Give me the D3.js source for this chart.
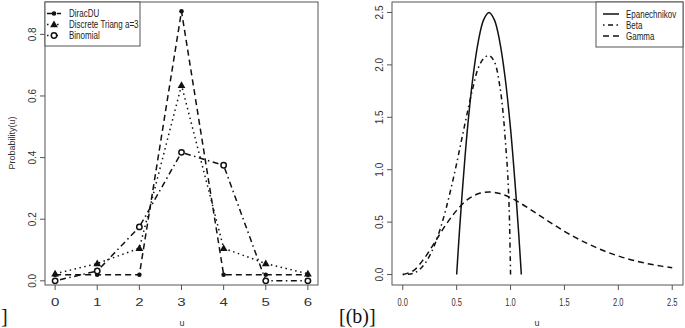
<!DOCTYPE html>
<html>
<head>
<meta charset="utf-8">
<script src="https://cdn.jsdelivr.net/npm/d3@7"></script>
<style>
  body { margin: 0; background: #fff; }
  svg { display: block; font-family: "Liberation Sans", Arial, sans-serif; }
  .tick-label { font-size: 10px; fill: #333; }
  .axis-title { font-size: 9px; fill: #333; }
  .legend-text { font-size: 10px; fill: #222; }
</style>
</head>
<body>
<svg id="chart" width="685" height="328"></svg>
<script>
// panel (a): discrete distributions
const uDiscrete = [0, 1, 2, 3, 4, 5, 6];
const diracDU = [0.02, 0.02, 0.02, 0.875, 0.02, 0.02, 0.02];
const triang = [0.023, 0.056, 0.106, 0.635, 0.106, 0.056, 0.023];
const binomial = [0.0, 0.032, 0.175, 0.417, 0.375, 0.0, 0.0];
const leftXTicks = [0, 1, 2, 3, 4, 5, 6];
const leftYTicks = [0, 0.2, 0.4, 0.6, 0.8];

// panel (b): densities
const epaU = [0.5, 0.525, 0.55, 0.575, 0.6, 0.65, 0.7, 0.75, 0.8, 0.85, 0.9, 0.95, 1.0, 1.025, 1.05, 1.075, 1.1];
const epaY = [0, 0.40, 0.76, 1.09, 1.39, 1.875, 2.22, 2.43, 2.5, 2.43, 2.22, 1.875, 1.39, 1.09, 0.76, 0.40, 0];
const betaU = [0, 0.05, 0.1, 0.15, 0.2, 0.25, 0.3, 0.35, 0.4, 0.45, 0.5, 0.55, 0.6, 0.65, 0.7, 0.75, 0.8, 0.85, 0.9, 0.93, 0.95, 0.97, 0.98, 0.99, 1.0];
const betaY = [0, 0.002, 0.013, 0.043, 0.097, 0.18, 0.295, 0.443, 0.623, 0.832, 1.06, 1.306, 1.55, 1.78, 1.97, 2.06, 2.09, 2.03, 1.80, 1.55, 1.3, 1.02, 0.82, 0.52, 0];
const gammaU = [0, 0.1, 0.2, 0.3, 0.4, 0.5, 0.6, 0.7, 0.8, 0.9, 1.0, 1.1, 1.2, 1.3, 1.4, 1.5, 1.6, 1.7, 1.8, 1.9, 2.0, 2.1, 2.2, 2.3, 2.4, 2.5];
const gammaY = [0, 0.038, 0.155, 0.313, 0.475, 0.612, 0.715, 0.77, 0.787, 0.772, 0.733, 0.675, 0.61, 0.542, 0.476, 0.412, 0.354, 0.302, 0.254, 0.213, 0.177, 0.146, 0.120, 0.098, 0.080, 0.065];
const rightXTicks = [0, 0.5, 1, 1.5, 2, 2.5];
const rightYTicks = [0, 0.5, 1, 1.5, 2, 2.5];

const svg = d3.select("#chart");
const frameColor = "#555";

// the source figure is a bit narrow horizontally: squeeze glyphs
function squeeze(sel, k) {
  sel.each(function() {
    const w = this.getComputedTextLength();
    d3.select(this).attr("textLength", w * k).attr("lengthAdjust", "spacingAndGlyphs");
  });
}

function drawFrame(x, y, xTicks, yTicks, fmt, xLabelX) {
  const [x0, x1] = x.range(), [y0, y1] = y.range();
  svg.append("rect")
    .attr("x", x0).attr("y", y1).attr("width", x1 - x0).attr("height", y0 - y1)
    .attr("fill", "none").attr("stroke", frameColor).attr("stroke-width", 1);
  // x ticks
  const gx = svg.append("g");
  gx.selectAll("line").data(xTicks).join("line")
    .attr("x1", d => x(d)).attr("x2", d => x(d))
    .attr("y1", y0).attr("y2", y0 + 5)
    .attr("stroke", frameColor);
  gx.selectAll("text").data(xTicks).join("text")
    .attr("class", "tick-label")
    .attr("x", d => x(d)).attr("y", 302).attr("dy", "0.35em")
    .attr("text-anchor", "middle")
    .text(fmt)
    .call(squeeze, 0.75);
  // y ticks
  const gy = svg.append("g");
  gy.selectAll("line").data(yTicks).join("line")
    .attr("x1", x0 - 5).attr("x2", x0)
    .attr("y1", d => y(d)).attr("y2", d => y(d))
    .attr("stroke", frameColor);
  gy.selectAll("text").data(yTicks).join("text")
    .attr("class", "tick-label")
    .attr("transform", d => `translate(${x0 - 13},${y(d)}) rotate(-90)`)
    .attr("dy", "0.35em")
    .attr("text-anchor", "middle")
    .text(fmt);
  svg.append("text").attr("class", "axis-title")
    .attr("x", xLabelX).attr("y", 323).attr("dy", "0.35em")
    .attr("text-anchor", "middle").text("u");
}

// ---------- panel (a) ----------
const xa = d3.scaleLinear().domain([-0.24, 6.24]).range([45, 318]);
const ya = d3.scaleLinear().domain([-0.0135, 0.905]).range([285, 2]);
drawFrame(xa, ya, leftXTicks, leftYTicks, d => d3.format(".1f")(d), 182);
svg.select("g:nth-of-type(1)").selectAll("text").text(d => d).call(squeeze, 0.8);
svg.append("text").attr("class", "axis-title")
  .attr("transform", "translate(12,143) rotate(-90)")
  .attr("dy", "0.35em").attr("text-anchor", "middle")
  .text("Probability(u)");

const discSeries = [
  { name: "DiracDU", values: diracDU, dash: "6,4", marker: "dot" },
  { name: "Discrete Triang a=3", values: triang, dash: "1.5,3.5", marker: "tri" },
  { name: "Binomial", values: binomial, dash: "1.5,3.5,6,3.5", marker: "ring" }
];
const lineA = d3.line().x((d, i) => xa(uDiscrete[i])).y(d => ya(d));

function marker(g, type, cx, cy) {
  if (type === "dot") {
    g.append("circle").attr("cx", cx).attr("cy", cy).attr("r", 2.3).attr("fill", "#111");
  } else if (type === "tri") {
    g.append("path")
      .attr("d", d3.symbol(d3.symbolTriangle, 26)())
      .attr("transform", `translate(${cx},${cy + 0.5})`)
      .attr("fill", "#111");
  } else {
    g.append("circle").attr("cx", cx).attr("cy", cy).attr("r", 2.7)
      .attr("fill", "#fff").attr("stroke", "#111").attr("stroke-width", 1.5);
  }
}

const ga = svg.append("g");
discSeries.forEach(s => {
  ga.append("path").attr("d", lineA(s.values))
    .attr("fill", "none").attr("stroke", "#111").attr("stroke-width", 1.5)
    .attr("stroke-dasharray", s.dash);
  s.values.forEach((v, i) => marker(ga, s.marker, xa(uDiscrete[i]), ya(v)));
});

// legend text, narrowed with a horizontal scale
function legendText(g, x, y, label) {
  g.append("text").attr("class", "legend-text")
    .attr("transform", `translate(${x},${y}) scale(0.8,1)`)
    .attr("dy", "0.35em").text(label);
}

// legend (a)
const lega = svg.append("g");
lega.append("rect").attr("x", 45).attr("y", 2).attr("width", 95).attr("height", 44)
  .attr("fill", "#fff").attr("stroke", frameColor);
discSeries.forEach((s, i) => {
  const yy = 13.5 + i * 11;
  lega.append("line").attr("x1", 47).attr("x2", 61).attr("y1", yy).attr("y2", yy)
    .attr("stroke", "#111").attr("stroke-width", 1.5).attr("stroke-dasharray", s.dash);
  marker(lega, s.marker, 54, yy);
  legendText(lega, 69, yy, s.name);
});

// ---------- panel (b) ----------
const xb = d3.scaleLinear().domain([-0.1, 2.6]).range([392, 683]);
const yb = d3.scaleLinear().domain([-0.1, 2.6]).range([285, 2]);
drawFrame(xb, yb, rightXTicks, rightYTicks, d => d3.format(".1f")(d), 537);

const contSeries = [
  { name: "Epanechnikov", u: epaU, v: epaY, dash: null },
  { name: "Beta", u: betaU, v: betaY, dash: "1.5,3.5,5,3.5" },
  { name: "Gamma", u: gammaU, v: gammaY, dash: "6,4" }
];
const gb = svg.append("g");
contSeries.forEach(s => {
  const line = d3.line().curve(d3.curveCatmullRom)
    .x((d, i) => xb(s.u[i])).y(d => yb(d));
  gb.append("path").attr("d", line(s.v))
    .attr("fill", "none").attr("stroke", "#111").attr("stroke-width", 1.5)
    .attr("stroke-dasharray", s.dash);
});

const legb = svg.append("g");
legb.append("rect").attr("x", 596).attr("y", 2).attr("width", 87).attr("height", 45)
  .attr("fill", "#fff").attr("stroke", frameColor);
contSeries.forEach((s, i) => {
  const yy = 14 + i * 11;
  legb.append("line").attr("x1", 603).attr("x2", 619).attr("y1", yy).attr("y2", yy)
    .attr("stroke", "#111").attr("stroke-width", 1.5).attr("stroke-dasharray", s.dash);
  legendText(legb, 626, yy, s.name);
});

// sub-figure captions
svg.append("text").attr("x", 339).attr("y", 323)
  .attr("font-family", "'Liberation Serif', 'DejaVu Serif', serif")
  .attr("font-size", 20).attr("fill", "#111").text("[(b)]");
svg.append("text").attr("x", 1).attr("y", 323)
  .attr("font-family", "'Liberation Serif', 'DejaVu Serif', serif")
  .attr("font-size", 20).attr("fill", "#111").text("]");
</script>
</body>
</html>
